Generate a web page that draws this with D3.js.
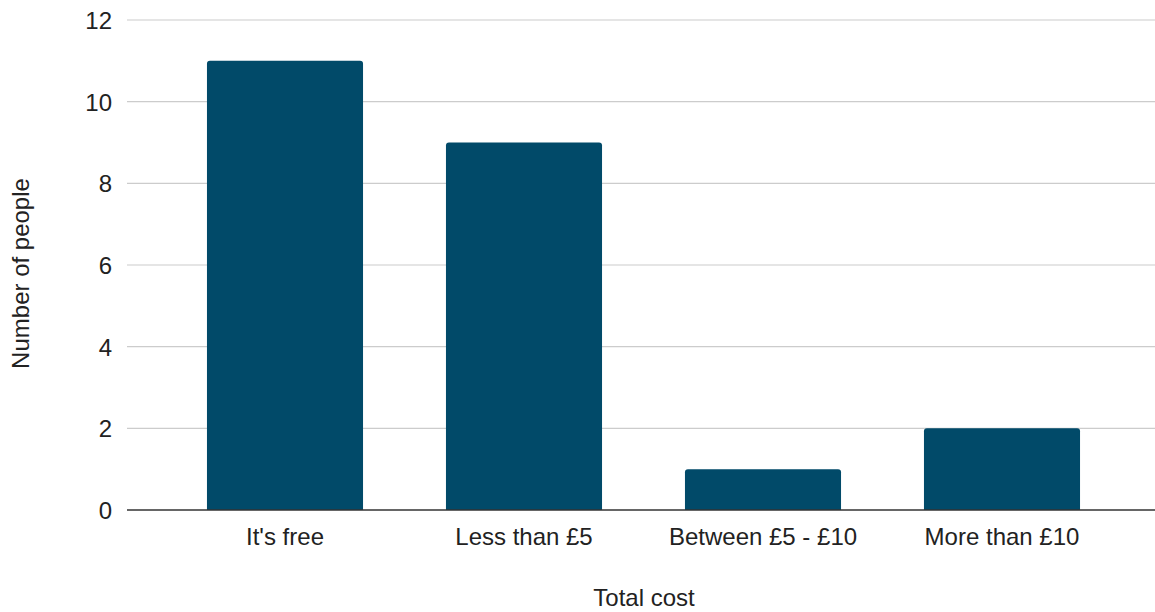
<!DOCTYPE html>
<html>
<head>
<meta charset="utf-8">
<script src="https://cdn.jsdelivr.net/npm/d3@7"></script>
<style>
  html, body { margin: 0; padding: 0; background: #fff; }
  svg { display: block; font-family: "Liberation Sans", Arial, sans-serif; }
</style>
</head>
<body>
<svg id="chart" width="1155" height="612"></svg>
<script>
// Survey responses: total cost of the activity
const categories = ["It's free", "Less than £5", "Between £5 - £10", "More than £10"];
const counts = [11, 9, 1, 2];
const yTicks = [0, 2, 4, 6, 8, 10, 12];

const svg = d3.select("#chart");
const gridLeft = 127, gridRight = 1155;
const plotTop = 20, plotBottom = 510;
const fontSize = 24;
const textColor = "#222";

const x = d3.scaleBand()
  .domain(categories)
  .range([165.5, 1121.5])
  .paddingInner(0.347)
  .paddingOuter(0.1735);

const y = d3.scaleLinear().domain([0, 12]).range([plotBottom, plotTop]);

// Horizontal gridlines
svg.append("g")
  .selectAll("line")
  .data(yTicks.filter(d => d !== 0))
  .join("line")
  .attr("x1", gridLeft).attr("x2", gridRight)
  .attr("y1", d => y(d)).attr("y2", d => y(d))
  .attr("stroke", "#cccccc").attr("stroke-width", 1.2);

// Y tick labels
const yAxis = d3.axisLeft(y).tickValues(yTicks).tickSize(0).tickPadding(0);
const yg = svg.append("g").attr("transform", `translate(${gridLeft - 15},0)`).call(yAxis);
yg.select(".domain").remove();
yg.selectAll("text")
  .attr("font-size", fontSize).attr("fill", textColor)
  .attr("font-family", "Liberation Sans, Arial, sans-serif")
  .attr("dy", "0.36em");

// Bars with rounded top corners
const r = 3;
function barPath(d, i) {
  const x0 = x(categories[i]), w = x.bandwidth();
  const y0 = y(d), y1 = y(0);
  return `M${x0},${y1} L${x0},${y0 + r} Q${x0},${y0} ${x0 + r},${y0} L${x0 + w - r},${y0} Q${x0 + w},${y0} ${x0 + w},${y0 + r} L${x0 + w},${y1} Z`;
}
svg.append("g")
  .selectAll("path")
  .data(counts)
  .join("path")
  .attr("d", (d, i) => barPath(d, i))
  .attr("fill", "#014a69");

// Baseline
svg.append("line")
  .attr("x1", gridLeft).attr("x2", gridRight)
  .attr("y1", y(0)).attr("y2", y(0))
  .attr("stroke", "#333").attr("stroke-width", 1.5);

// X tick labels
const xAxis = d3.axisBottom(x).tickSize(0).tickPadding(0);
const xg = svg.append("g").attr("transform", `translate(0,${plotBottom})`).call(xAxis);
xg.select(".domain").remove();
xg.selectAll("text")
  .attr("font-size", fontSize).attr("fill", textColor)
  .attr("font-family", "Liberation Sans, Arial, sans-serif")
  .attr("y", 35).attr("dy", 0);

// Axis titles
svg.append("text")
  .attr("x", 644).attr("y", 606)
  .attr("text-anchor", "middle").attr("font-size", fontSize).attr("fill", textColor)
  .text("Total cost");

svg.append("text")
  .attr("transform", `translate(29,273.5) rotate(-90)`)
  .attr("text-anchor", "middle").attr("font-size", fontSize).attr("fill", textColor)
  .text("Number of people");
</script>
</body>
</html>
